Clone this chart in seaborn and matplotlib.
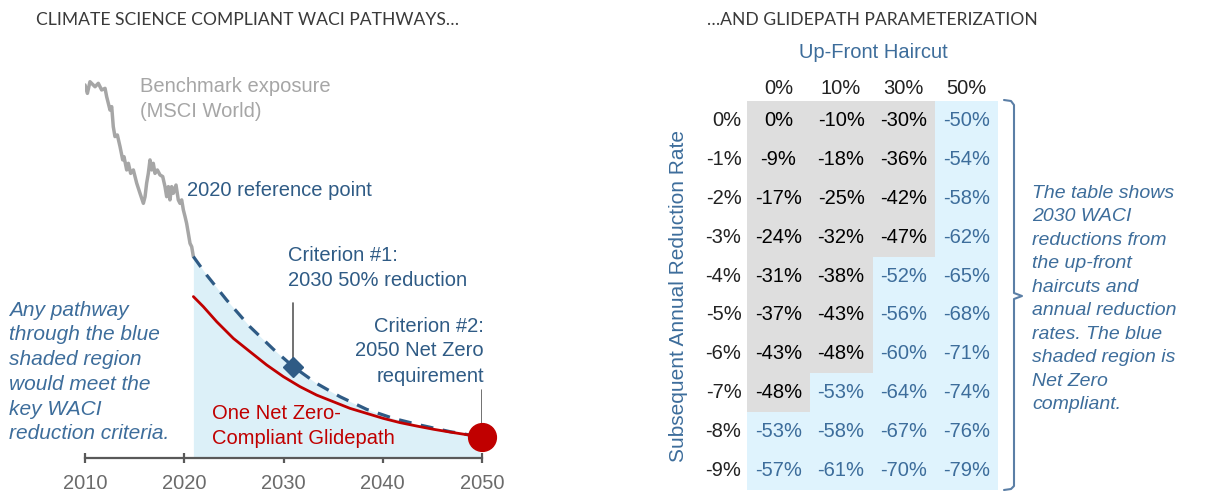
"""
Two-panel slide: WACI pathways chart (left) + glidepath parameter table (right)
"""
import numpy as np
import pandas as pd
import matplotlib.pyplot as plt
import seaborn as sns
from matplotlib.colors import ListedColormap

# --- data -------------------------------------------------------------
bench_year = [2010.0, 2010.24, 2010.5, 2011.01, 2011.34, 2011.68, 2012.02, 2012.18,
              2012.52, 2012.69, 2012.85, 2013.02, 2013.26, 2013.53, 2013.8, 2013.93,
              2014.2, 2014.37, 2014.6, 2014.87, 2015.21, 2015.54, 2015.88, 2016.05,
              2016.21, 2016.38, 2016.55, 2016.72, 2016.88, 2017.05, 2017.29, 2017.56,
              2017.83, 2018.06, 2018.23, 2018.4, 2018.56, 2018.73, 2018.9, 2019.17,
              2019.4, 2019.57, 2019.74, 2019.91, 2020.08, 2020.24, 2020.41, 2020.58,
              2020.75, 2020.92]
bench_val = [185.6, 181.4, 187.2, 184.7, 186.4, 183.1, 183.9, 179.8,
             173.1, 174.8, 164.8, 159.9, 160.7, 154.9, 148.3, 149.9,
             143.3, 146.6, 141.6, 143.3, 136.7, 131.7, 126.7, 130.0,
             136.7, 141.6, 148.3, 143.3, 146.6, 141.6, 143.3, 140.8,
             140.0, 135.0, 130.0, 135.0, 128.4, 135.0, 131.7, 135.8,
             128.4, 126.7, 128.4, 123.4, 120.1, 116.7, 111.8, 106.8,
             105.1, 100.2]

limit_year = [2020.92, 2022.26, 2024.27, 2026.62, 2028.98, 2030.99, 2033.34,
              2035.69, 2038.38, 2041.07, 2043.75, 2046.78, 2049.8]
limit_val = [100.2, 91.0, 78.6, 65.3, 54.1, 45.4, 37.1, 30.5, 24.2, 19.7, 16.4, 13.1, 10.6]

glide_year = [2020.92, 2021.92, 2023.27, 2024.95, 2026.62, 2028.3, 2029.98, 2031.66,
              2033.34, 2035.02, 2036.7, 2038.38, 2040.06, 2041.74, 2043.42, 2045.1,
              2046.78, 2048.46, 2049.8]
glide_val = [80.3, 75.3, 67.8, 59.5, 52.9, 46.3, 40.5, 35.5,
             31.3, 28.0, 24.7, 22.2, 19.7, 17.6, 15.9, 14.3,
             12.9, 11.6, 10.6]

crit1 = (2030.99, 45.4)
crit2 = (2050.0, 10.6)

haircuts = ["0%", "10%", "30%", "50%"]
rates = ["0%", "-1%", "-2%", "-3%", "-4%", "-5%", "-6%", "-7%", "-8%", "-9%"]
reductions = [[0, -10, -30, -50],
              [-9, -18, -36, -54],
              [-17, -25, -42, -58],
              [-24, -32, -47, -62],
              [-31, -38, -52, -65],
              [-37, -43, -56, -68],
              [-43, -48, -60, -71],
              [-48, -53, -64, -74],
              [-53, -58, -67, -76],
              [-57, -61, -70, -79]]

# --- style ------------------------------------------------------------
sns.set_theme(style="white")
plt.rcParams["font.family"] = ["Liberation Sans", "DejaVu Sans"]

GREY_LINE = "#a6a6a6"
DARK_BLUE = "#2f5b85"
TEXT_BLUE = "#3d6d9b"
RED = "#c00000"
SHADE = "#dcf0f8"
CELL_GREY = "#dedede"
CELL_BLUE = "#dff3fd"
AXIS_GREY = "#595959"

W, H = 1211, 491
fig = plt.figure(figsize=(W / 100, H / 100), dpi=100)

# --- left panel: pathways --------------------------------------------
ax = fig.add_axes([85 / W, (H - 458) / H, 397 / W, 398 / H])
ax.fill_between(limit_year, limit_val, 0, color=SHADE, lw=0)
sns.lineplot(x=bench_year, y=bench_val, ax=ax, color=GREY_LINE, lw=2.5)
sns.lineplot(x=limit_year, y=limit_val, ax=ax, color=DARK_BLUE, lw=2.3,
             linestyle=(0, (4, 3)))
sns.lineplot(x=glide_year, y=glide_val, ax=ax, color=RED, lw=2)
ax.plot([crit1[0], crit1[0]], [crit1[1] + 4, 77], color=AXIS_GREY, lw=1.2)
ax.plot([crit2[0], crit2[0]], [crit2[1] + 5, 34], color=AXIS_GREY, lw=1.2)
ax.plot(*crit1, marker="D", ms=10, color=DARK_BLUE, clip_on=False)
ax.plot(*crit2, marker="o", ms=20, color=RED, clip_on=False, zorder=5)

ax.set_xlim(2010, 2050)
ax.set_ylim(0, 198)
ax.set_xticks([2010, 2020, 2030, 2040, 2050])
ax.set_yticks([])
for s in ["top", "right", "left"]:
    ax.spines[s].set_visible(False)
ax.spines["bottom"].set_color(AXIS_GREY)
ax.spines["bottom"].set_linewidth(1.6)
ax.tick_params(axis="x", direction="inout", length=7, width=1.6, color=AXIS_GREY,
               labelsize=14.5, labelcolor="#6b6b6b", pad=8, bottom=True)
ax.patch.set_alpha(0)

# --- right panel: table heatmap --------------------------------------
df = pd.DataFrame(reductions, index=rates, columns=haircuts)
compliant = (df <= -50).astype(int)
labels = df.map(lambda v: f"{v}%")

hx = fig.add_axes([747 / W, 1 / H, 251 / W, 389 / H])
sns.heatmap(compliant, ax=hx, cmap=ListedColormap([CELL_GREY, CELL_BLUE]),
            cbar=False, annot=labels, fmt="", linewidths=0,
            annot_kws={"fontsize": 14.5})
for txt, flag in zip(hx.texts, compliant.values.flatten()):
    txt.set_color(TEXT_BLUE if flag else "black")
hx.xaxis.tick_top()
hx.tick_params(axis="both", length=0, labelsize=14.5, labelcolor="#222222")
hx.tick_params(axis="x", pad=2.5)
hx.tick_params(axis="y", pad=4)
hx.set_yticklabels(rates, rotation=0)
hx.set_xlabel("")
hx.set_ylabel("")

# --- overlay for free text (pixel coords) ----------------------------
ov = fig.add_axes([0, 0, 1, 1])
ov.set_xlim(0, W)
ov.set_ylim(H, 0)
ov.axis("off")

ov.text(36, 20, "CLIMATE SCIENCE COMPLIANT WACI PATHWAYS…", fontsize=12.6,
        color="#3a3a3a", family=["Lato", "DejaVu Sans"], va="center")
ov.text(707, 20, "…AND GLIDEPATH PARAMETERIZATION", fontsize=12.6,
        color="#3a3a3a", family=["Lato", "DejaVu Sans"], va="center")

ov.text(140, 99, "Benchmark exposure\n(MSCI World)", fontsize=14.5, color=GREY_LINE,
        va="center", linespacing=1.4)
ov.text(187, 190, "2020 reference point", fontsize=14.5, color=DARK_BLUE, va="center")
ov.text(288, 268, "Criterion #1:\n2030 50% reduction", fontsize=14.5, color=DARK_BLUE,
        va="center", linespacing=1.45)
ov.text(484, 351, "Criterion #2:\n2050 Net Zero\nrequirement", fontsize=14.5,
        color=DARK_BLUE, va="center", ha="right", linespacing=1.4)
ov.text(212, 426, "One Net Zero-\nCompliant Glidepath", fontsize=14.5, color=RED,
        va="center", linespacing=1.4)
ov.text(9, 372, "Any pathway\nthrough the blue\nshaded region\nwould meet the\nkey WACI\nreduction criteria.",
        fontsize=15, color=TEXT_BLUE, style="italic", va="center", linespacing=1.38)

ov.text(873, 52, "Up-Front Haircut", fontsize=14.5, color=TEXT_BLUE, ha="center", va="center")
ov.text(679, 296, "Subsequent Annual Reduction Rate", fontsize=15, color=TEXT_BLUE,
        ha="center", va="center", rotation=90)
ov.text(1032, 299, "The table shows\n2030 WACI\nreductions from\nthe up-front\nhaircuts and\nannual reduction\nrates. The blue\nshaded region is\nNet Zero\ncompliant.",
        fontsize=14, color=TEXT_BLUE, style="italic", va="center", linespacing=1.5)

# curly bracket
bx = [1004, 1011, 1014, 1014, 1022, 1014, 1014, 1011, 1004]
by = [100, 101, 105, 293, 296, 299, 486, 489, 490]
ov.plot(bx, by, color="#5b7fa6", lw=1.5)

fig.savefig("out.png", dpi=100)
